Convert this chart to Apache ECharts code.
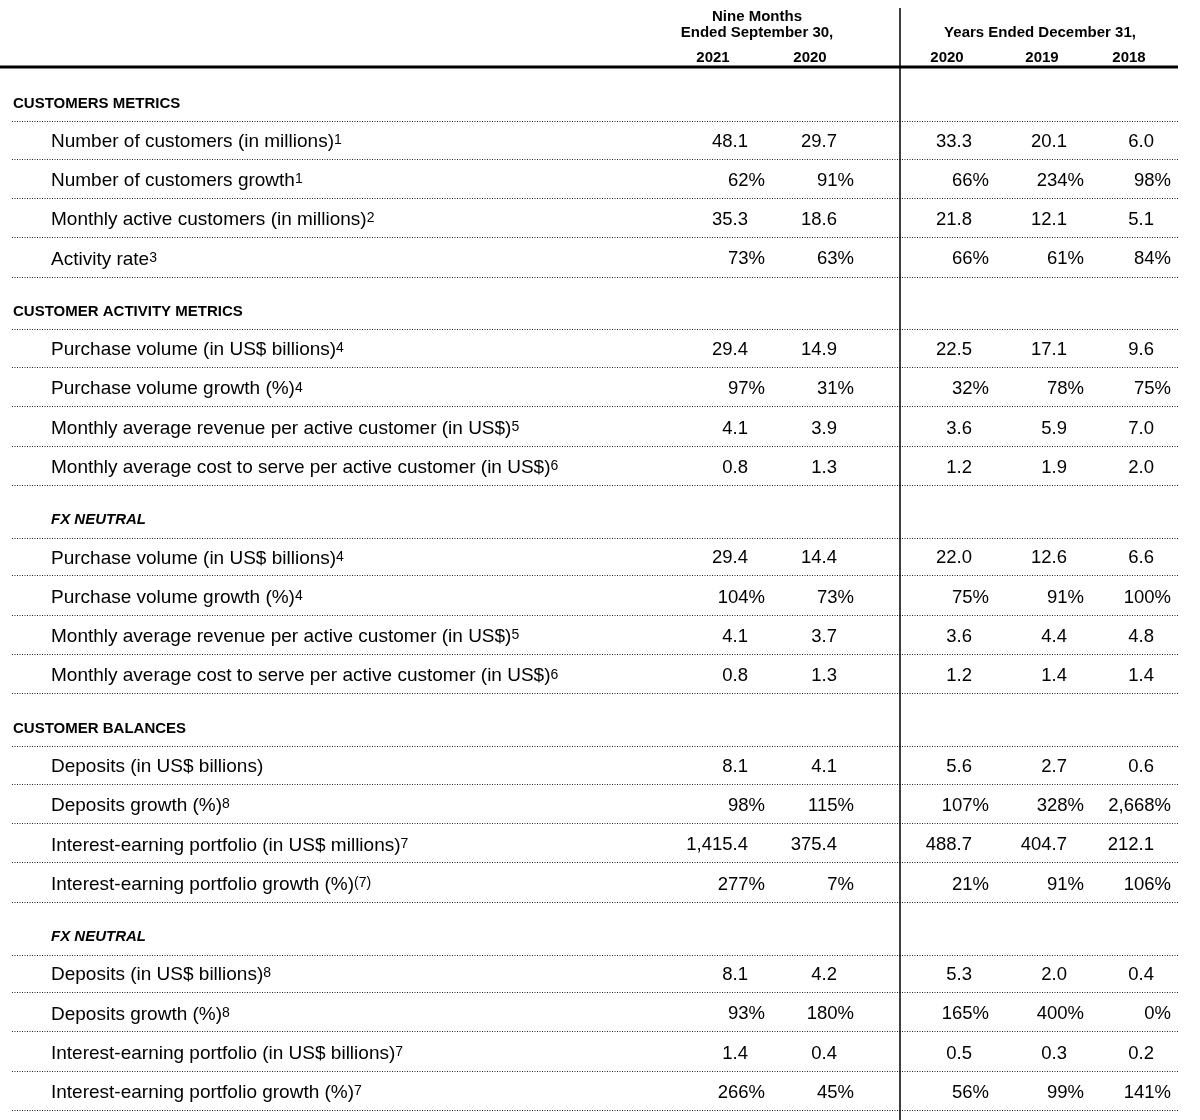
<!DOCTYPE html>
<html>
<head>
<meta charset="utf-8">
<script src="https://cdn.jsdelivr.net/npm/echarts@6/dist/echarts.min.js"></script>
<style>
  html, body { margin: 0; background: #fff; }
  #chart { width: 1200px; height: 1120px; }
</style>
</head>
<body>
<div id="chart"></div>
<script>
// table content
const periodTitles = [['Nine Months', 'Ended September 30,'], ['Years Ended December 31,']];
const columnYears = ['2021', '2020', '2020', '2019', '2018'];
const sectionTitles = ['CUSTOMERS METRICS', 'CUSTOMER ACTIVITY METRICS', 'FX NEUTRAL', 'CUSTOMER BALANCES', 'FX NEUTRAL'];
const sectionItalic = [false, false, true, false, true];
const rowLabels = [
  'Number of customers (in millions)', 'Number of customers growth', 'Monthly active customers (in millions)', 'Activity rate',
  'Purchase volume (in US$ billions)', 'Purchase volume growth (%)', 'Monthly average revenue per active customer (in US$)', 'Monthly average cost to serve per active customer (in US$)',
  'Purchase volume (in US$ billions)', 'Purchase volume growth (%)', 'Monthly average revenue per active customer (in US$)', 'Monthly average cost to serve per active customer (in US$)',
  'Deposits (in US$ billions)', 'Deposits growth (%)', 'Interest-earning portfolio (in US$ millions)', 'Interest-earning portfolio growth (%)',
  'Deposits (in US$ billions)', 'Deposits growth (%)', 'Interest-earning portfolio (in US$ billions)', 'Interest-earning portfolio growth (%)'
];
const rowNotes = ['1', '1', '2', '3', '4', '4', '5', '6', '4', '4', '5', '6', '', '8', '7', '(7)', '8', '8', '7', '7'];
const nine2021 = ['48.1', '62%', '35.3', '73%', '29.4', '97%', '4.1', '0.8', '29.4', '104%', '4.1', '0.8', '8.1', '98%', '1,415.4', '277%', '8.1', '93%', '1.4', '266%'];
const nine2020 = ['29.7', '91%', '18.6', '63%', '14.9', '31%', '3.9', '1.3', '14.4', '73%', '3.7', '1.3', '4.1', '115%', '375.4', '7%', '4.2', '180%', '0.4', '45%'];
const year2020 = ['33.3', '66%', '21.8', '66%', '22.5', '32%', '3.6', '1.2', '22.0', '75%', '3.6', '1.2', '5.6', '107%', '488.7', '21%', '5.3', '165%', '0.5', '56%'];
const year2019 = ['20.1', '234%', '12.1', '61%', '17.1', '78%', '5.9', '1.9', '12.6', '91%', '4.4', '1.4', '2.7', '328%', '404.7', '91%', '2.0', '400%', '0.3', '99%'];
const year2018 = ['6.0', '98%', '5.1', '84%', '9.6', '75%', '7.0', '2.0', '6.6', '100%', '4.8', '1.4', '0.6', '2,668%', '212.1', '106%', '0.4', '0%', '0.2', '141%'];
const valueColumns = [nine2021, nine2020, year2020, year2019, year2018];
const rowsPerSection = 4;

// layout (axis units = pixels)
const FONT = "'Liberation Sans', Arial, Helvetica, sans-serif";
const colRight = [748, 837, 972, 1067, 1154];
const yearX = [713, 810, 947, 1042, 1129];
const periodX = [757, 1040];
const pctHang = 17;
const ruleLeft = 12, ruleRight = 1178, dividerX = 900;

const titleY = [], rowY = [];
let y = 102;
sectionTitles.forEach(() => {
  titleY.push(y);
  y += 37;
  for (let r = 0; r < rowsPerSection; r++) {
    rowY.push(y);
    if (r < rowsPerSection - 1) y += 39.3;
  }
  y += 53.5;
});

const dotted = [];
titleY.forEach(v => dotted.push(v + 19));
rowY.forEach(v => dotted.push(v + 19.6));

// text items: [x, y, text, align, styleKey]
const texts = [];
periodTitles[0].forEach((t, i) => texts.push([periodX[0], 16 + i * 16, t, 'center', 'head']));
texts.push([periodX[1], 32, periodTitles[1][0], 'center', 'head']);
columnYears.forEach((t, i) => texts.push([yearX[i], 57, t, 'center', 'head']));
sectionTitles.forEach((t, i) => texts.push([sectionItalic[i] ? 51 : 13, titleY[i], t, 'left', sectionItalic[i] ? 'subsec' : 'sec']));
rowLabels.forEach((t, i) => {
  const note = rowNotes[i] ? '{s|' + rowNotes[i] + '}' : '';
  texts.push([51, rowY[i], '{t|' + t + '}' + note, 'left', 'row']);
});
valueColumns.forEach((col, c) => {
  col.forEach((v, i) => {
    const x = v.endsWith('%') ? colRight[c] + pctHang : colRight[c];
    texts.push([x, rowY[i], v, 'right', 'val']);
  });
});

const styles = {
  head: { dy: 1, style: { fontSize: 15, fontWeight: 'bold' } },
  sec: { dy: 1.5, style: { fontSize: 15, fontWeight: 'bold' } },
  subsec: { dy: 1.5, style: { fontSize: 15, fontWeight: 'bold', fontStyle: 'italic' } },
  row: { dy: 2.5, style: { fontSize: 19, rich: {
    t: { fontSize: 19, fontFamily: FONT, fill: '#000' },
    s: { fontSize: 14, padding: [0, 0, 3, 0], fontFamily: FONT, fill: '#000' }
  } } },
  val: { dy: 2.5, style: { fontSize: 18.5 } }
};

const chart = echarts.init(document.getElementById('chart'));
chart.setOption({
  backgroundColor: '#ffffff',
  animation: false,
  grid: { left: 0, right: 0, top: 0, bottom: 0 },
  xAxis: { type: 'value', min: 0, max: 1200, show: false },
  yAxis: { type: 'value', min: 0, max: 1120, inverse: true, show: false },
  series: [
    {
      type: 'custom',
      name: 'rules',
      silent: true,
      data: dotted.map(v => [ruleLeft, v, ruleRight]),
      renderItem: (params, api) => {
        const a = api.coord([api.value(0), api.value(1)]);
        const b = api.coord([api.value(2), api.value(1)]);
        const yy = Math.round(a[1]) + 0.5;
        return {
          type: 'line',
          shape: { x1: a[0], y1: yy, x2: b[0], y2: yy },
          style: { stroke: '#222', lineWidth: 1, lineDash: [1, 1.5] }
        };
      }
    },
    {
      type: 'custom',
      name: 'frame',
      silent: true,
      data: [[0, 67, 1178, 67, 3], [dividerX, 8, dividerX, 1120, 1.5]],
      renderItem: (params, api) => {
        const a = api.coord([api.value(0), api.value(1)]);
        const b = api.coord([api.value(2), api.value(3)]);
        return {
          type: 'line',
          shape: { x1: a[0], y1: a[1], x2: b[0], y2: b[1] },
          style: { stroke: '#000', lineWidth: api.value(4) }
        };
      }
    },
    {
      type: 'custom',
      name: 'cells',
      silent: true,
      data: texts.map(t => [t[0], t[1]]),
      renderItem: (params, api) => {
        const item = texts[params.dataIndex];
        const st = styles[item[4]];
        const p = api.coord([api.value(0), api.value(1) + st.dy]);
        return {
          type: 'text',
          x: p[0],
          y: p[1],
          style: Object.assign({
            text: item[2],
            align: item[3],
            verticalAlign: 'middle',
            fill: '#000',
            fontFamily: FONT
          }, st.style)
        };
      }
    }
  ]
});
</script>
</body>
</html>
